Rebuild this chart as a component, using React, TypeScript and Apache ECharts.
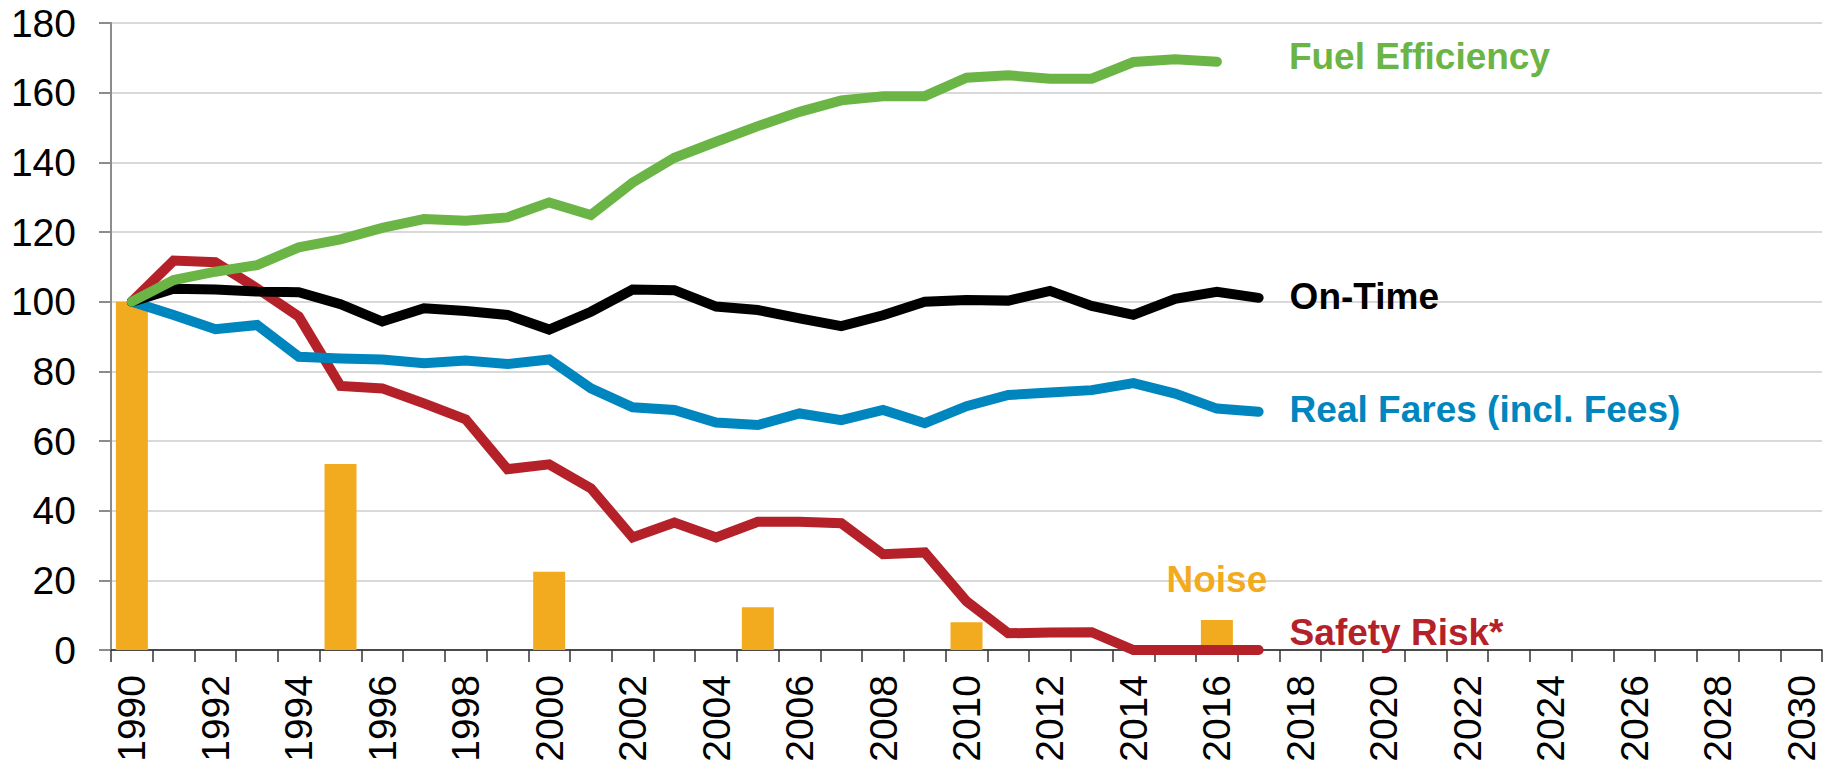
import React, { useEffect, useRef } from "react";
import * as echarts from "echarts";

const years = [
  "1990", "1991", "1992", "1993", "1994", "1995", "1996", "1997", "1998", "1999",
  "2000", "2001", "2002", "2003", "2004", "2005", "2006", "2007", "2008", "2009",
  "2010", "2011", "2012", "2013", "2014", "2015", "2016", "2017", "2018", "2019",
  "2020", "2021", "2022", "2023", "2024", "2025", "2026", "2027", "2028", "2029", "2030",
];

// 1990-2016
const fuelEfficiency = [
  100, 106.2, 108.6, 110.5, 115.6, 117.9, 121.2, 123.7, 123.2, 124.2,
  128.5, 124.9, 134.2, 141.3, 145.9, 150.4, 154.5, 157.8, 159.0, 159.0,
  164.3, 165.0, 164.0, 164.0, 168.8, 169.6, 168.9,
];
// 1990-2017
const onTime = [
  100, 103.7, 103.5, 102.9, 102.7, 99.3, 94.3, 98.1, 97.3, 96.2,
  92.0, 97.1, 103.5, 103.3, 98.6, 97.6, 95.2, 93.0, 96.1, 100.0,
  100.5, 100.3, 103.1, 98.8, 96.2, 100.8, 102.8, 101.1,
];
const realFares = [
  100, 96.2, 92.1, 93.3, 84.2, 83.7, 83.4, 82.3, 83.1, 82.1,
  83.4, 75.1, 69.7, 68.9, 65.3, 64.6, 67.9, 66.0, 68.9, 65.1,
  70.0, 73.2, 73.9, 74.6, 76.6, 73.6, 69.3, 68.4,
];
const safetyRisk = [
  100, 111.8, 111.3, 103.8, 95.7, 75.8, 75.1, 70.8, 66.2, 51.9,
  53.3, 46.4, 32.3, 36.6, 32.3, 36.8, 36.8, 36.4, 27.5, 28.0,
  14.0, 4.8, 5.0, 5.1, 0, 0, 0, 0,
];
const noiseYears = ["1990", "1995", "2000", "2005", "2010", "2016"];
const noiseValues = [100, 53.4, 22.5, 12.3, 8.0, 8.6];

const yTicks = { min: 0, max: 180, interval: 20 };

const COLORS = {
  fuel: "#6AB545",
  onTime: "#000000",
  fares: "#0086BF",
  safety: "#B52129",
  noise: "#F2AB1E",
};

const FONT = "'Liberation Sans', Arial, sans-serif";

export default function App() {
  const ref = useRef<HTMLDivElement>(null);

  useEffect(() => {
    if (!ref.current) return;
    const chart = echarts.init(ref.current, null, { renderer: "svg" });

    const noiseData = years.map((y) => {
      const idx = noiseYears.indexOf(y);
      if (idx < 0) return null;
      if (y === "2016") {
        return {
          value: noiseValues[idx],
          label: {
            show: true,
            position: "top",
            distance: 22,
            formatter: "Noise",
            color: COLORS.noise,
            fontFamily: FONT,
            fontWeight: "bold",
            fontSize: 37,
          },
        };
      }
      return noiseValues[idx];
    });

    const lineSeries = (
      name: string,
      data: number[],
      color: string,
      dist: number,
      dy: number
    ) => ({
      type: "line",
      name,
      data,
      symbol: "none",
      showSymbol: false,
      lineStyle: { color, width: 10, cap: "round", join: "miter" },
      endLabel: {
        show: true,
        formatter: name,
        color,
        fontFamily: FONT,
        fontWeight: "bold",
        fontSize: 37,
        distance: dist,
        offset: [0, dy],
        align: "left",
        verticalAlign: "middle",
      },
      z: 3,
    });

    chart.setOption({
      animation: false,
      backgroundColor: "#ffffff",
      grid: { left: 111, right: 10, top: 23, bottom: 117, containLabel: false },
      xAxis: {
        type: "category",
        data: years,
        boundaryGap: true,
        axisLine: { show: true, lineStyle: { color: "#1a1a1a", width: 1.5 } },
        axisTick: {
          show: true,
          interval: 0,
          length: 12,
          lineStyle: { color: "#333333", width: 1.5 },
        },
        axisLabel: {
          interval: 1,
          rotate: 90,
          margin: 25,
          color: "#000000",
          fontFamily: FONT,
          fontSize: 39,
        },
        splitLine: { show: false },
      },
      yAxis: {
        type: "value",
        min: yTicks.min,
        max: yTicks.max,
        interval: yTicks.interval,
        axisLine: { show: true, lineStyle: { color: "#8c8c8c", width: 2 } },
        axisTick: { show: true, length: 12, lineStyle: { color: "#8c8c8c", width: 2 } },
        axisLabel: {
          margin: 35,
          color: "#000000",
          fontFamily: FONT,
          fontSize: 39,
        },
        splitLine: { show: true, lineStyle: { color: "#d9d9d9", width: 2 } },
      },
      series: [
        {
          type: "bar",
          name: "Noise",
          data: noiseData,
          barWidth: 32,
          itemStyle: { color: COLORS.noise },
          z: 2,
        },
        lineSeries("Safety Risk*", safetyRisk, COLORS.safety, 31, -18),
        lineSeries("Real Fares (incl. Fees)", realFares, COLORS.fares, 31, -2),
        lineSeries("On-Time", onTime, COLORS.onTime, 31, -1),
        lineSeries("Fuel Efficiency", fuelEfficiency, COLORS.fuel, 72, -5),
      ],
    });

    return () => chart.dispose();
  }, []);

  return (
    <div
      ref={ref}
      style={{ position: "fixed", left: 0, top: 0, width: 1832, height: 767, background: "#fff" }}
    />
  );
}
